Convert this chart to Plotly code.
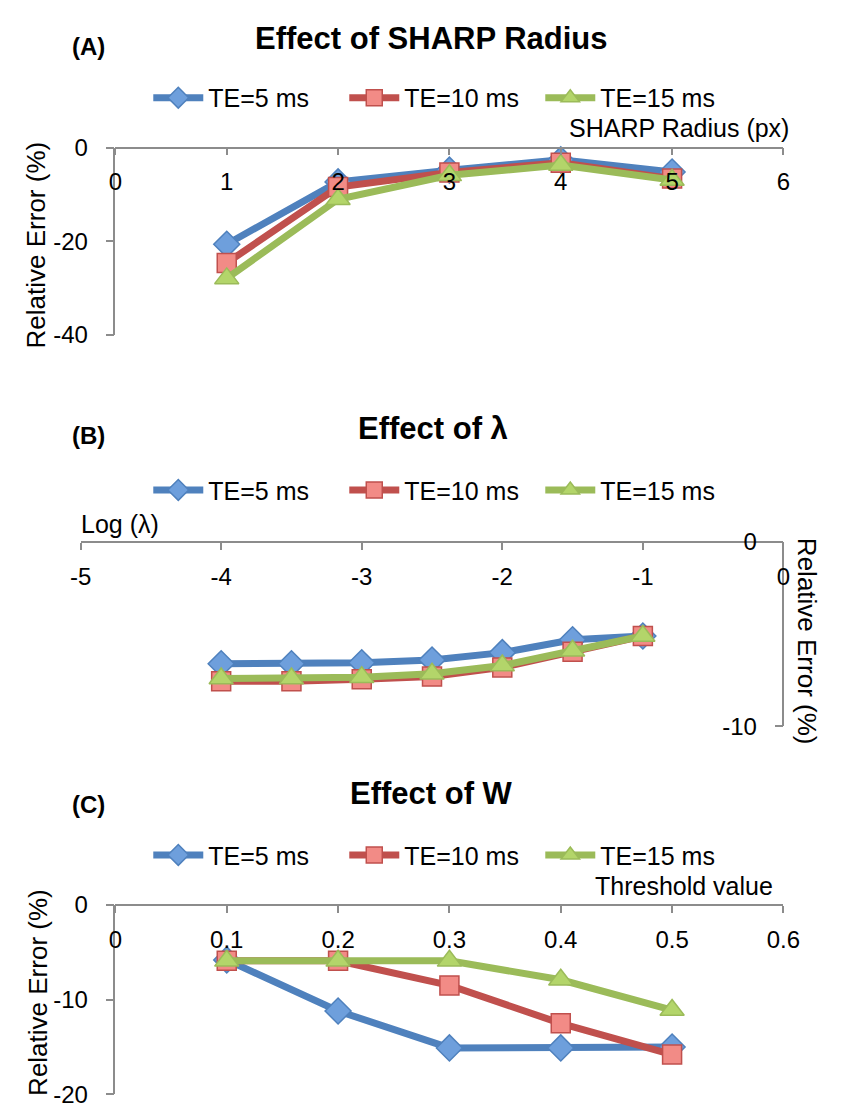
import plotly.graph_objects as go

W, H = 842, 1120

# ---------------- data ----------------
series_names = ["TE=5 ms", "TE=10 ms", "TE=15 ms"]

# (A) SHARP radius
radius_px = [1, 2, 3, 4, 5]
radius_te5 = [-20.6, -7.3, -4.8, -2.6, -5.2]
radius_te10 = [-24.6, -8.4, -5.3, -3.2, -6.6]
radius_te15 = [-27.9, -11.0, -5.9, -3.7, -6.9]
radius_xticks = [0, 1, 2, 3, 4, 5, 6]
radius_xlabels = ["0", "1", "2", "3", "4", "5", "6"]
radius_yticks = [-40, -20, 0]
radius_ylabels = ["-40", "-20", "0"]

# (B) lambda
log_lambda = [-4, -3.5, -3, -2.5, -2, -1.5, -1]
lambda_te5 = [-6.6, -6.6, -6.55, -6.4, -6.0, -5.3, -5.1]
lambda_te10 = [-7.55, -7.55, -7.45, -7.3, -6.8, -5.95, -5.1]
lambda_te15 = [-7.4, -7.4, -7.33, -7.15, -6.7, -5.9, -5.1]
lambda_xticks = [-5, -4, -3, -2, -1, 0]
lambda_xlabels = ["-5", "-4", "-3", "-2", "-1", "0"]
lambda_yticks = [-10, 0]
lambda_ylabels = ["-10", "0"]

# (C) threshold W
threshold = [0.1, 0.2, 0.3, 0.4, 0.5]
w_te5 = [-5.8, -11.2, -15.1, -15.1, -15.0]
w_te10 = [-5.9, -5.9, -8.5, -12.5, -15.8]
w_te15 = [-5.9, -5.9, -5.9, -7.9, -11.1]
w_xticks = [0, 0.1, 0.2, 0.3, 0.4, 0.5, 0.6]
w_xlabels = ["0", "0.1", "0.2", "0.3", "0.4", "0.5", "0.6"]
w_yticks = [-20, -10, 0]
w_ylabels = ["-20", "-10", "0"]

# ---------------- styles ----------------
line_colors = ["#4F81BD", "#C0504D", "#9BBB59"]
fill_colors = ["#6E9FDC", "#F28B86", "#B3D56A"]
symbols = ["diamond", "square", "triangle-up"]
sizes = [20, 19, 21]
FONT = "Liberation Sans, Arial, Helvetica, sans-serif"
AXC = "#8C8C8C"

def px_x(p):
    return p / W

def px_y(p):
    return 1 - p / H

fig = go.Figure()

panels = [
    (radius_px, [radius_te5, radius_te10, radius_te15], "x", "y", "legend"),
    (log_lambda, [lambda_te5, lambda_te10, lambda_te15], "x2", "y2", "legend2"),
    (threshold, [w_te5, w_te10, w_te15], "x3", "y3", "legend3"),
]

for xs, ys_list, xa, ya, lg in panels:
    for i, ys in enumerate(ys_list):
        fig.add_trace(go.Scatter(
            x=xs, y=ys, name=series_names[i], mode="lines+markers",
            xaxis=xa, yaxis=ya, legend=lg, cliponaxis=False,
            line=dict(color=line_colors[i], width=7),
            marker=dict(symbol=symbols[i], size=sizes[i], color=fill_colors[i],
                        line=dict(color=line_colors[i], width=1.5)),
        ))

def xax(domain, rng, tv, tt, pos):
    return dict(domain=domain, range=rng, tickmode="array", tickvals=tv, ticktext=tt,
                anchor="free", position=pos,
                side="bottom", showline=True, linecolor=AXC, linewidth=1.5,
                ticks="outside", ticklen=7, tickcolor=AXC, tickwidth=1.5,
                showgrid=False, zeroline=False, ticklabelstandoff=6,
                tickfont=dict(family=FONT, size=24, color="black"))

def yax(domain, rng, tv, tt, pos, anchor):
    d = dict(domain=domain, range=rng, tickmode="array", tickvals=tv, ticktext=tt,
             side="left",
             showline=True, linecolor=AXC, linewidth=1.5,
             ticks="outside", ticklen=8, tickcolor=AXC, tickwidth=1.5,
             showgrid=False, zeroline=False, ticklabelstandoff=13,
             tickfont=dict(family=FONT, size=24, color="black"))
    if anchor == "free":
        d.update(anchor="free", position=pos)
    else:
        d.update(anchor=anchor)
    return d

fig.update_layout(
    width=W, height=H, margin=dict(l=0, r=0, t=0, b=0),
    paper_bgcolor="white", plot_bgcolor="white",
    font=dict(family=FONT, color="black"),
    xaxis=xax([px_x(108), px_x(799)], [0, 6], radius_xticks, radius_xlabels, px_y(137)),
    yaxis=yax([px_y(329), px_y(137)], [-40, 0], radius_yticks, radius_ylabels, None, "x"),
    xaxis2=xax([px_x(72), px_x(799)], [-5, 0], lambda_xticks, lambda_xlabels, px_y(541)),
    yaxis2=yax([px_y(730), px_y(541)], [-10, 0], lambda_yticks, lambda_ylabels, px_x(799), "free"),
    xaxis3=xax([px_x(108), px_x(799)], [0, 0.6], w_xticks, w_xlabels, px_y(913)),
    yaxis3=yax([px_y(1107), px_y(913)], [-20, 0], w_yticks, w_ylabels, None, "x3"),
)

def legend_cfg(ypx):
    return dict(orientation="h", x=px_x(142), y=px_y(ypx), xanchor="left",
                yanchor="middle", font=dict(family=FONT, size=25, color="black"),
                itemwidth=50, entrywidth=131, entrywidthmode="pixels",
                bgcolor="rgba(0,0,0,0)", traceorder="normal")

fig.update_layout(legend=legend_cfg(86), legend2=legend_cfg(488), legend3=legend_cfg(862))

annotations = []

def ann(text, xp, yp, size, bold=False, xanchor="center", angle=0):
    annotations.append(dict(
        text=f"<b>{text}</b>" if bold else text, x=px_x(xp), y=px_y(yp),
        xref="paper", yref="paper", showarrow=False, xanchor=xanchor,
        yanchor="middle", textangle=angle,
        font=dict(family=FONT, size=size, color="black")))

# titles and panel labels
ann("Effect of SHARP Radius", 435, 25, 31, bold=True)
ann("(A)", 80, 33, 24, bold=True)
ann("Effect of λ", 436, 425, 31, bold=True)
ann("(B)", 80, 432, 24, bold=True)
ann("Effect of W", 435, 799, 31, bold=True)
ann("(C)", 80, 810, 24, bold=True)

# axis titles
ann("SHARP Radius (px)", 807, 117, 25, xanchor="right")
ann("Log (λ)", 70, 523, 25, xanchor="left")
ann("Threshold value", 790, 894, 25, xanchor="right")
ann("Relative Error (%)", 26, 237, 26, angle=-90)
ann("Relative Error (%)", 823, 643, 26, angle=90)
ann("Relative Error (%)", 28, 1003, 26, angle=-90)

fig.update_layout(annotations=annotations)

fig.write_html("out.html", post_script="document.body.style.margin='0';document.body.style.overflow='hidden';")
